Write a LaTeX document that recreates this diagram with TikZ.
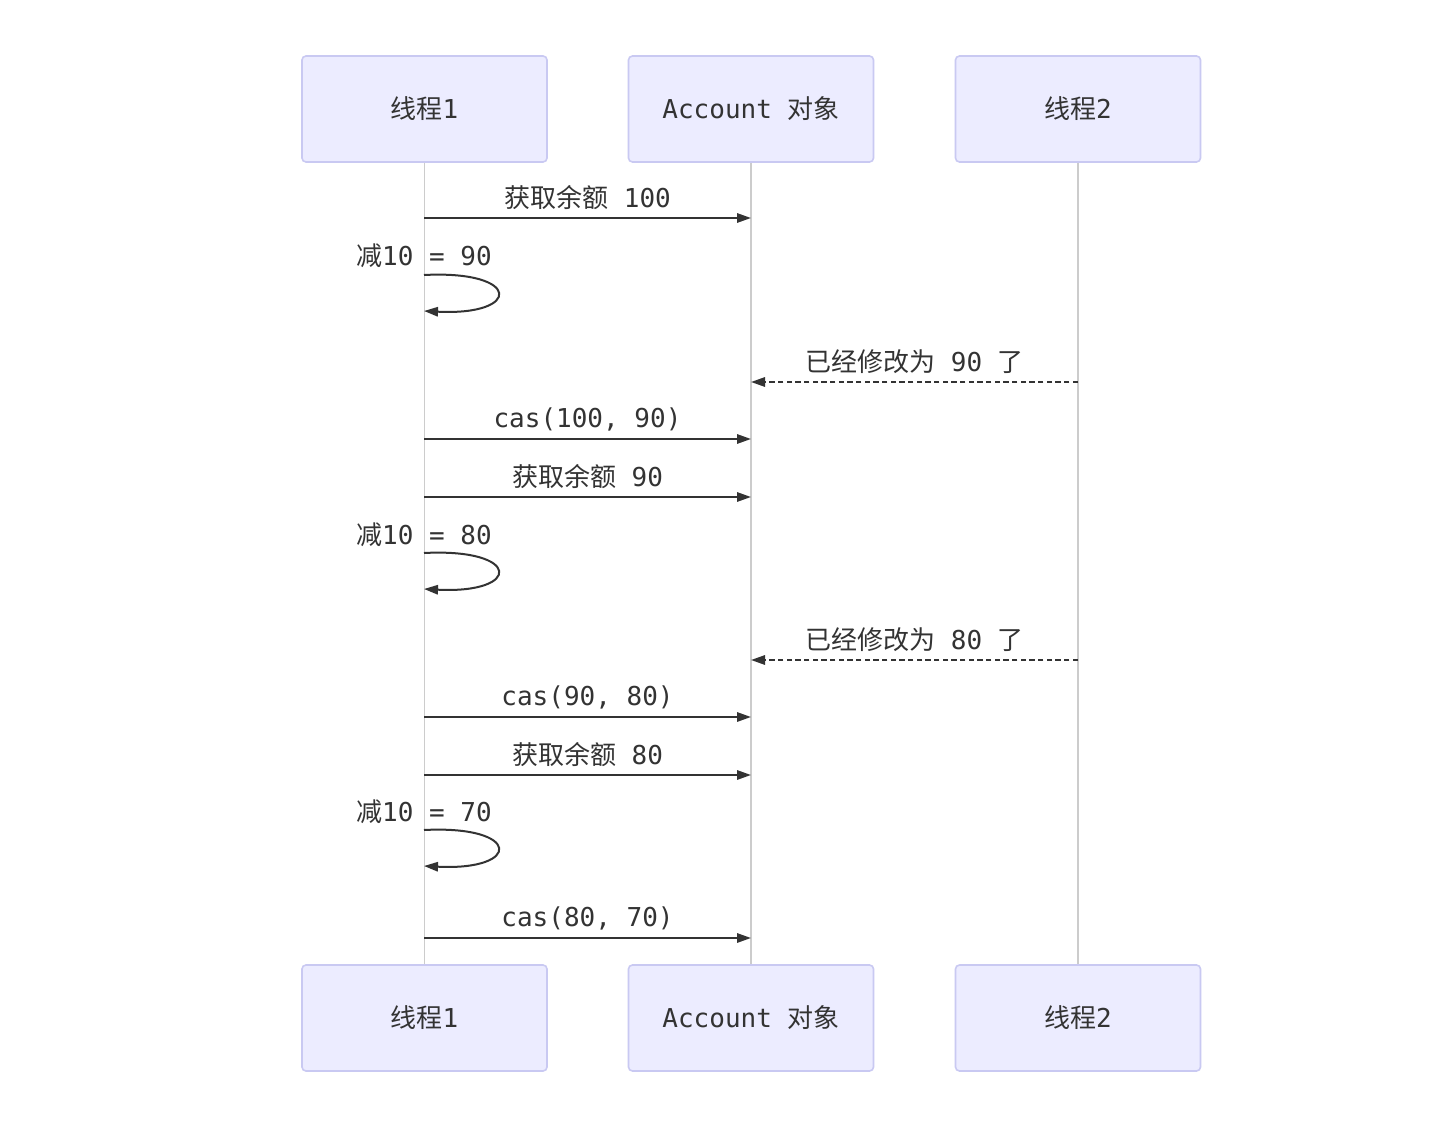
\documentclass[tikz,border=0pt]{standalone}
\usepackage{fontspec}
\setmainfont{DejaVu Sans Mono}
\newfontfamily\cjk{Noto Sans CJK SC}
\usetikzlibrary{arrows.meta}
\definecolor{actfill}{HTML}{ECECFF}
\definecolor{actdraw}{HTML}{C9C9F2}
\definecolor{lifeline}{HTML}{CCCCCC}
\definecolor{ink}{HTML}{333333}
\tikzset{
  actor/.style={draw=actdraw, line width=1.2pt, fill=actfill, rounded corners=3pt,
    minimum width=183.75pt, minimum height=79.5pt, text=ink, font=\fontsize{19.5}{23}\selectfont},
  lifeline/.style={draw=lifeline, line width=1pt},
  msg/.style={draw=ink, line width=1.5pt, -{Triangle[length=10.5pt,width=7pt]}},
  dmsg/.style={msg, dash pattern=on 4pt off 2.5pt},
  lbl/.style={text=ink, font=\fontsize{19.5}{23}\selectfont, inner sep=0pt},
}
\begin{document}
\begin{tikzpicture}[x=0.75pt,y=-0.75pt]
\useasboundingbox[fill=white] (0,0) rectangle (1442,1123);
% actors
\node[actor] (t1) at (424.5,109) {{\cjk 线程}1};
\node[actor] (ac) at (751,109) {Account {\cjk 对象}};
\node[actor] (t2) at (1078,109) {{\cjk 线程}2};
\node[actor] (b1) at (424.5,1018) {{\cjk 线程}1};
\node[actor] (bc) at (751,1018) {Account {\cjk 对象}};
\node[actor] (b2) at (1078,1018) {{\cjk 线程}2};
% lifelines
\draw[lifeline] (t1.south) -- (b1.north);
\draw[lifeline] (ac.south) -- (bc.north);
\draw[lifeline] (t2.south) -- (b2.north);
% message coordinates
\foreach \n/\y in {1/218,4/439,5/497,8/717,9/775,11/938}{
  \coordinate (p\n) at (424,\y);
  \coordinate (q\n) at (751,\y);
}
\foreach \n/\y in {3/382,7/660}{
  \coordinate (r\n) at (1078,\y);
  \coordinate (q\n) at (751,\y);
}
% 1
\draw[msg] (p1) -- node[lbl,midway,yshift=15pt] {{\cjk 获取余额} 100} (q1);
% 2 self
\coordinate (s2a) at (424,275); \coordinate (s2b) at (424,311);
\node[lbl] (l2) at (424,256) {{\cjk 减}10 = 90};
\draw[msg] (s2a) .. controls +(98,-5) and +(98,5) .. (s2b);
% 3
\draw[dmsg] (r3) -- node[lbl,midway,yshift=15.5pt] {{\cjk 已经修改为} 90 {\cjk 了}} (q3);
% 4
\draw[msg] (p4) -- node[lbl,midway,yshift=14.5pt] {cas(100, 90)} (q4);
% 5
\draw[msg] (p5) -- node[lbl,midway,yshift=15pt] {{\cjk 获取余额} 90} (q5);
% 6 self
\coordinate (s6a) at (424,553); \coordinate (s6b) at (424,589);
\node[lbl] (l6) at (424,535) {{\cjk 减}10 = 80};
\draw[msg] (s6a) .. controls +(98,-5) and +(98,5) .. (s6b);
% 7
\draw[dmsg] (r7) -- node[lbl,midway,yshift=15.5pt] {{\cjk 已经修改为} 80 {\cjk 了}} (q7);
% 8
\draw[msg] (p8) -- node[lbl,midway,yshift=14.5pt] {cas(90, 80)} (q8);
% 9
\draw[msg] (p9) -- node[lbl,midway,yshift=15pt] {{\cjk 获取余额} 80} (q9);
% 10 self
\coordinate (s10a) at (424,830); \coordinate (s10b) at (424,866);
\node[lbl] (l10) at (424,812) {{\cjk 减}10 = 70};
\draw[msg] (s10a) .. controls +(98,-5) and +(98,5) .. (s10b);
% 11
\draw[msg] (p11) -- node[lbl,midway,yshift=14.5pt] {cas(80, 70)} (q11);
\end{tikzpicture}
\end{document}
